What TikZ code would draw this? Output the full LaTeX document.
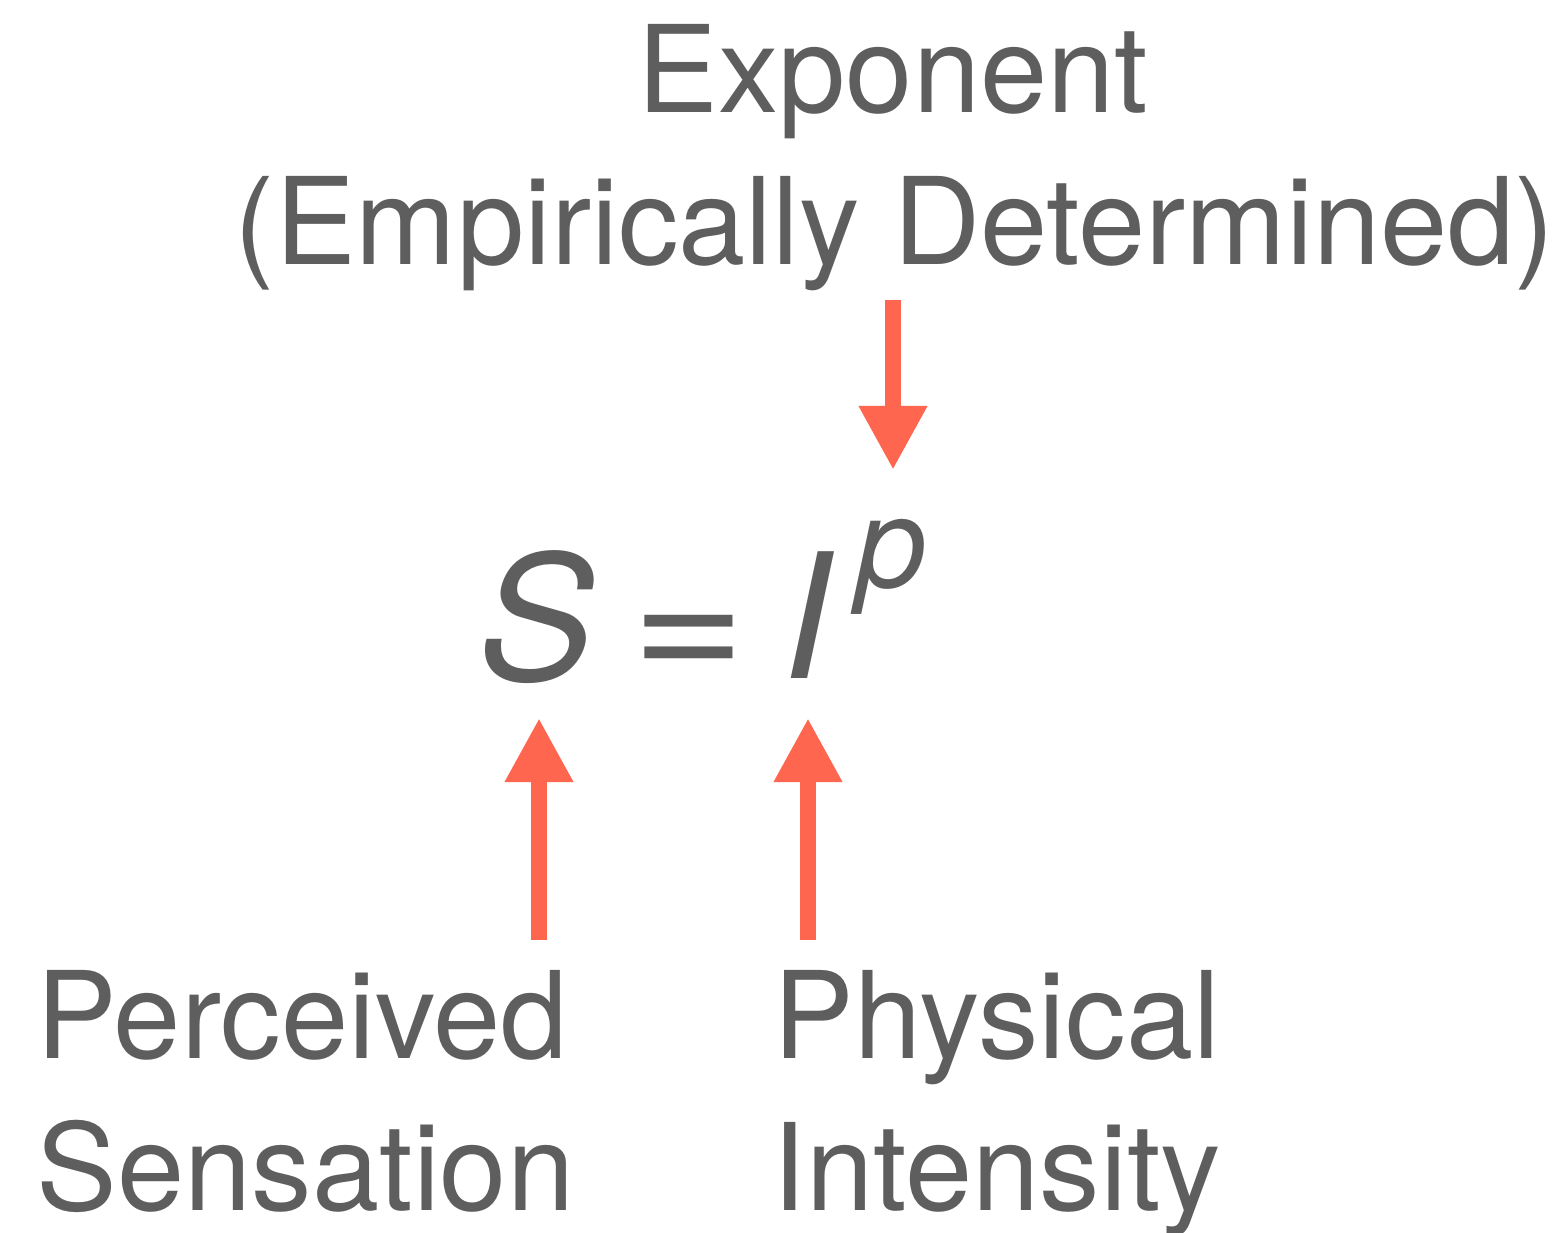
\documentclass[tikz,border=0pt]{standalone}
\usepackage{fontspec}
\setmainfont{TeX Gyre Heros}
\usepackage{tikz}
\usetikzlibrary{arrows.meta, positioning}

\definecolor{textgray}{HTML}{5E5E5E}
\definecolor{arrowred}{HTML}{FF6650}

\begin{document}
\begin{tikzpicture}[
    lbl/.style={inner sep=0pt, text=textgray, font=\fontsize{34.4}{43}\selectfont},
    eq/.style={inner sep=0pt, text=textgray, font=\fontsize{49.5}{50}\selectfont\itshape},
    arr/.style={line width=0.16cm, draw=arrowred, -{Triangle[length=0.64cm, width=0.64cm]}}
]
    \useasboundingbox (0,0) rectangle (15.62,-12.33);

    % labels
    \node[lbl, anchor=base] (expo) at (8.93,-1.13) {Exponent};
    \node[lbl, anchor=base] (empir) at (8.95,-2.65) {(Empirically Determined)};
    \node[lbl, anchor=base west] (perc) at (0.36,-10.58) {Perceived};
    \node[lbl, anchor=base west] (sens) at (0.36,-12.10) {Sensation};
    \node[lbl, anchor=base west] (phys) at (7.73,-10.58) {Physical};
    \node[lbl, anchor=base west] (inten) at (7.72,-12.10) {Intensity};

    % the equation
    \node[eq, anchor=base west] (eqS) at (4.78,-6.80) {S};
    \node[eq, anchor=base, font=\fontsize{49.5}{50}\selectfont] (eqsign) at (6.89,-6.80) {\scalebox{1.13}[1]{=}};
    \node[eq, anchor=base west] (eqI) at (7.82,-6.78) {I};
    \node[eq, anchor=base west, font=\fontsize{36}{36}\selectfont\itshape] (eqp) at (8.56,-5.87) {p};

    % arrows
    \coordinate (expoTail) at (8.93,-3.00);
    \coordinate (expoTip) at (8.93,-4.70);
    \coordinate (percTail) at (5.39,-9.40);
    \coordinate (percTip) at (5.39,-7.18);
    \coordinate (physTail) at (8.08,-9.40);
    \coordinate (physTip) at (8.08,-7.18);
    \draw[arr] (expoTail) -- (expoTip);
    \draw[arr] (percTail) -- (percTip);
    \draw[arr] (physTail) -- (physTip);
\end{tikzpicture}
\end{document}
